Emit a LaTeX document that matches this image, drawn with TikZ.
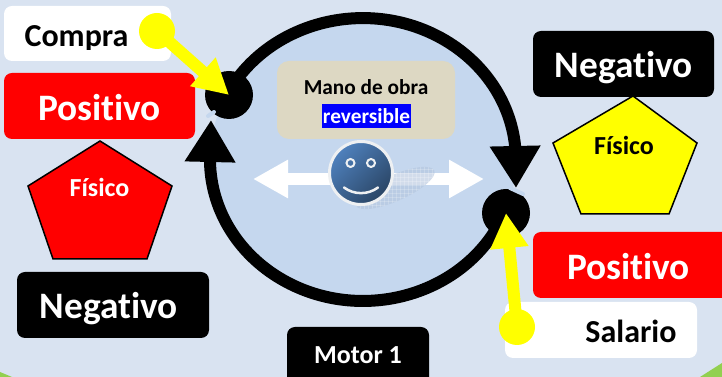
\documentclass[tikz,border=0pt]{standalone}
\usepackage{fontspec}
\setmainfont[Ligatures=NoCommon]{Carlito}
\usetikzlibrary{arrows.meta,patterns}
\newlength{\du}
\setlength{\du}{0.75pt}
\definecolor{fondocolor}{HTML}{D9E3F1}
\definecolor{anillocolor}{HTML}{C5D7EE}
\definecolor{bordecolor}{HTML}{92D050}
\definecolor{beigecolor}{HTML}{DDD8C3}
\definecolor{caraclara}{HTML}{4F81BD}
\definecolor{caraoscura}{HTML}{2A4565}
\definecolor{caraborde}{HTML}{EEF0F2}
\definecolor{sombracolor}{HTML}{B4C6DE}
\definecolor{amarillo}{HTML}{FFFF00}
\definecolor{rojo}{HTML}{FF0000}
\definecolor{azul}{HTML}{0000FF}
\tikzset{
  caja/.style={rectangle,rounded corners=8\du,inner sep=0pt,outer sep=0pt},
  cajablanca/.style={caja,fill=white},
  cajaroja/.style={caja,fill=rojo},
  cajanegra/.style={caja,fill=black},
  grande/.style={anchor=base,inner sep=0pt,outer sep=0pt,font=\fontsize{28}{28}\selectfont\bfseries},
  medio/.style={anchor=base,inner sep=0pt,outer sep=0pt,font=\fontsize{24}{24}\selectfont\bfseries},
  chico/.style={anchor=base,inner sep=0pt,outer sep=0pt,font=\fontsize{16}{16}\selectfont\bfseries},
  fisico/.style={anchor=base,inner sep=0pt,outer sep=0pt,font=\fontsize{19.5}{19.5}\selectfont\bfseries},
  punto/.style={circle,fill=amarillo,minimum size=36\du,inner sep=0pt,outer sep=0pt},
  nudo/.style={circle,fill=black,minimum size=48\du,inner sep=0pt,outer sep=0pt},
  ojo/.style={circle,draw=caraborde,line width=2\du,minimum size=8\du,inner sep=0pt},
  pentagono/.style={draw=black,line width=1.5\du,line join=miter},
  anillo/.style={line width=12\du,black,-{Triangle[length=31.5pt,width=36pt]}},
  flechaamarilla/.style={line width=12\du,amarillo,-{Triangle[length=26.25pt,width=27pt]}},
  flechablanca/.style={line width=12\du,white,-{Triangle[length=26.25pt,width=27pt]}},
  rendija/.style={line width=4\du,anillocolor,line cap=round},
}
\begin{document}
\begin{tikzpicture}
\pgftransformyscale{-1.000000}
\useasboundingbox (0\du,0\du) rectangle (722\du,377\du);
% fondo
\fill[fondocolor] (0\du,0\du) rectangle (722\du,377\du);
\fill[bordecolor] (0\du,372\du)--(12\du,377\du)--(0\du,377\du)--cycle;
\fill[bordecolor] (700\du,377\du)--(722\du,363\du)--(722\du,377\du)--cycle;
% motor
\fill[anillocolor] (363\du,159.5\du) ellipse [x radius=153\du,y radius=141.5\du];
\node[nudo] (nudoCompra) at (229\du,95\du) {};
\node[nudo] (nudoSalario) at (506\du,213\du) {};
\coordinate (salidaCompra) at (229\du,91\du);
\coordinate (puntaDerecha) at (516\du,188\du);
\coordinate (salidaSalario) at (495.5\du,230.2\du);
\coordinate (puntaIzquierda) at (211\du,120\du);
\draw[anillo] (salidaCompra) arc[start angle=-151,end angle=-5.5,x radius=153\du,y radius=141.5\du] -- (puntaDerecha);
\draw[anillo] (salidaSalario) arc[start angle=30,end angle=179,x radius=153\du,y radius=141.5\du] -- (puntaIzquierda);
% rendijas
\coordinate (rendijaA) at (510\du,188\du);
\coordinate (rendijaB) at (523\du,194\du);
\coordinate (rendijaC) at (208\du,116\du);
\coordinate (rendijaD) at (214\du,112\du);
\draw[rendija] (rendijaA) -- (rendijaB);
\draw[rendija] (rendijaC) -- (rendijaD);
% caja central
\node[caja,fill=beigecolor,rounded corners=12\du,minimum width=178\du,minimum height=78\du] (cajaMano) at (366\du,100\du) {};
\node[chico] (textoMano) at (366\du,95\du) {Mano de obra};
\node[chico,anchor=center,fill=azul,text=white,minimum width=89\du,minimum height=24\du] (textoReversible) at (366.5\du,116\du) {reversible};
% flechas blancas y cara
\coordinate (puntaIzq) at (253\du,179\du);
\coordinate (puntaDer) at (484\du,179\du);
\coordinate (baseFlecha) at (361\du,179\du);
\draw[flechablanca] (baseFlecha) -- (puntaIzq);
\draw[flechablanca] (baseFlecha) -- (puntaDer);
\fill[sombracolor,opacity=.6] (395\du,188\du) ellipse [x radius=43\du,y radius=13\du,rotate=-24];
\path[pattern=grid,pattern color=white,opacity=.2] (395\du,188\du) ellipse [x radius=43\du,y radius=13\du,rotate=-24];
\node[circle,draw=caraborde,line width=3\du,minimum size=63\du,inner sep=0pt,top color=caraclara,bottom color=caraoscura,shading angle=45] (carita) at (361\du,173\du) {};
\node[ojo] (ojoIzq) at (350.5\du,163\du) {};
\node[ojo] (ojoDer) at (371\du,163\du) {};
\coordinate (risaIzq) at (344\du,187.5\du);
\coordinate (risaDer) at (378\du,187.5\du);
\draw[caraborde,line width=2.5\du,line cap=round] (risaIzq) .. controls (354\du,195\du) and (368\du,195\du) .. (risaDer);
% cajas izquierda
\node[cajablanca,minimum width=167\du,minimum height=55\du] (cajaCompra) at (87.5\du,33.5\du) {};
\begin{scope}
\clip (0\du,0\du) rectangle (171\du,50\du);
\node[medio] (textoCompra) at (76.5\du,47\du) {Compra};
\end{scope}
\node[cajaroja,minimum width=191\du,minimum height=66\du] (cajaPositivoIzq) at (99.5\du,106\du) {};
\node[grande,text=white] (textoPositivoIzq) at (99.5\du,121\du) {Positivo};
\fill[rojo,pentagono] (100\du,141\du)--(172\du,186\du)--(147\du,259\du)--(53\du,259\du)--(28\du,186\du)--cycle;
\node[fisico,text=white] (textoFisicoIzq) at (99.5\du,197\du) {Físico};
\node[cajanegra,minimum width=192\du,minimum height=66\du] (cajaNegativoIzq) at (113\du,305\du) {};
\node[grande,text=white] (textoNegativoIzq) at (109\du,319\du) {Negativo};
\node[cajanegra,minimum width=142\du,minimum height=70\du] (cajaMotor) at (358\du,362\du) {};
\node[fisico,text=white] (textoMotor) at (358\du,364\du) {Motor 1};
% cajas derecha
\node[cajanegra,minimum width=181\du,minimum height=66\du] (cajaNegativoDer) at (623.5\du,64\du) {};
\node[grande,text=white] (textoNegativoDer) at (624\du,78\du) {Negativo};
\fill[amarillo,pentagono] (633\du,96\du)--(697\du,143\du)--(669\du,214\du)--(581\du,214\du)--(553\du,143\du)--cycle;
\node[fisico] (textoFisicoDer) at (624\du,155\du) {Físico};
\node[cajaroja,minimum width=205\du,minimum height=66\du] (cajaPositivoDer) at (635.5\du,265\du) {};
\node[grande,text=white] (textoPositivoDer) at (628.5\du,280\du) {Positivo};
\node[cajablanca,minimum width=192\du,minimum height=56\du] (cajaSalario) at (601\du,330\du) {};
\node[medio] (textoSalario) at (631\du,343\du) {Salario};
% flechas amarillas
\node[punto] (puntoCompra) at (157\du,31\du) {};
\node[punto] (puntoSalario) at (517\du,327\du) {};
\draw[flechaamarilla] (puntoCompra.center) -- (nudoCompra.center);
\draw[flechaamarilla] (puntoSalario.center) -- (nudoSalario.center);
\end{tikzpicture}
\end{document}
